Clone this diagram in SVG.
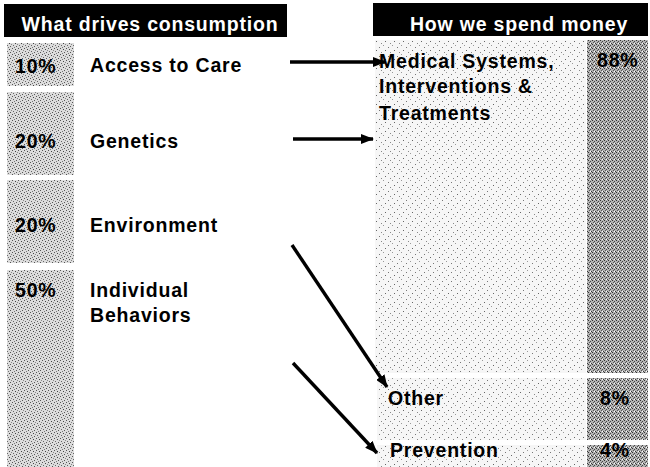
<svg xmlns="http://www.w3.org/2000/svg" width="650" height="467" viewBox="0 0 650 467">
  <defs>
    <style>
      text { font-family: "Liberation Sans", Arial, sans-serif; font-weight: bold; font-size: 19.5px; letter-spacing: 0.8px; fill: #000; }
      .head { fill: #fff; text-anchor: middle; }
      .bar { fill: #000; }
      .pct { fill: url(#stipMid); }
      .light { fill: url(#stipLight); }
      .dark { fill: url(#stipDark); }
      .conn { stroke: #000; stroke-width: 3.4; fill: none; marker-end: url(#head); }
    </style>
    <!-- halftone-like fills -->
    <pattern id="stipLight" width="9" height="9" patternUnits="userSpaceOnUse">
      <rect width="9" height="9" fill="#f6f6f6"/>
      <rect x="1" y="2" width="1" height="1" fill="#777"/>
      <rect x="5" y="0" width="1" height="1" fill="#999"/>
      <rect x="7" y="5" width="1" height="1" fill="#666"/>
      <rect x="3" y="7" width="1" height="1" fill="#888"/>
    </pattern>
    <pattern id="stipMid" width="6" height="6" patternUnits="userSpaceOnUse">
      <rect width="6" height="6" fill="#dcdcdc"/>
      <rect x="0" y="0" width="1" height="1" fill="#555"/>
      <rect x="3" y="1" width="1" height="1" fill="#444"/>
      <rect x="1" y="3" width="1" height="1" fill="#666"/>
      <rect x="4" y="4" width="1" height="1" fill="#555"/>
      <rect x="2" y="5" width="1" height="1" fill="#777"/>
      <rect x="5" y="2" width="1" height="1" fill="#888"/>
    </pattern>
    <pattern id="stipDark" width="4" height="4" patternUnits="userSpaceOnUse">
      <rect width="4" height="4" fill="#b4b4b4"/>
      <rect x="0" y="0" width="1" height="1" fill="#333"/>
      <rect x="2" y="1" width="1" height="1" fill="#444"/>
      <rect x="1" y="2" width="1" height="1" fill="#555"/>
      <rect x="3" y="3" width="1" height="1" fill="#3a3a3a"/>
      <rect x="2" y="3" width="1" height="1" fill="#fff"/>
    </pattern>
    <marker id="head" viewBox="0 0 13 10" refX="12" refY="5" markerWidth="13" markerHeight="10" markerUnits="userSpaceOnUse" orient="auto">
      <path d="M0,0 L13,5 L0,10 Z" fill="#000"/>
    </marker>
  </defs>

  <rect width="650" height="467" fill="#fff"/>

  <!-- column headers -->
  <g id="header-drivers">
    <rect class="bar" x="4" y="4" width="283" height="33"/>
    <text class="head" x="150" y="31">What drives consumption</text>
  </g>
  <g id="header-spending">
    <rect class="bar" x="373" y="3" width="275" height="33"/>
    <text class="head" x="519" y="31">How we spend money</text>
  </g>

  <!-- drivers of consumption -->
  <g id="driver-access">
    <rect class="pct" x="7" y="43" width="67" height="43"/>
    <text x="15" y="73">10%</text>
    <text x="90" y="72">Access to Care</text>
  </g>
  <g id="driver-genetics">
    <rect class="pct" x="7" y="92" width="67" height="83"/>
    <text x="15" y="148">20%</text>
    <text x="90" y="148">Genetics</text>
  </g>
  <g id="driver-environment">
    <rect class="pct" x="7" y="180" width="67" height="83"/>
    <text x="15" y="232">20%</text>
    <text x="90" y="232">Environment</text>
  </g>
  <g id="driver-behaviors">
    <rect class="pct" x="7" y="270" width="67" height="197"/>
    <text x="15" y="297">50%</text>
    <text x="90" y="297">Individual</text>
    <text x="90" y="322">Behaviors</text>
  </g>

  <!-- spending categories -->
  <g id="spend-medical">
    <rect class="light" x="375" y="40" width="211" height="333"/>
    <rect class="dark" x="587" y="40" width="61" height="333"/>
    <text x="379" y="68">Medical Systems,</text>
    <text x="379" y="93">Interventions &amp;</text>
    <text x="379" y="120">Treatments</text>
    <text x="597" y="67">88%</text>
  </g>
  <g id="spend-other">
    <rect class="light" x="377" y="378" width="209" height="62"/>
    <rect class="dark" x="587" y="378" width="61" height="62"/>
    <text x="388" y="405">Other</text>
    <text x="600" y="405">8%</text>
  </g>
  <g id="spend-prevention">
    <rect class="light" x="377" y="445" width="209" height="22"/>
    <rect class="dark" x="587" y="445" width="61" height="22"/>
    <text x="390" y="457">Prevention</text>
    <text x="600" y="457">4%</text>
  </g>

  <!-- connectors -->
  <g id="connectors">
    <line class="conn" x1="290" y1="62" x2="385" y2="62"/>
    <line class="conn" x1="293" y1="139" x2="373" y2="139"/>
    <line class="conn" x1="292" y1="245" x2="387" y2="387"/>
    <line class="conn" x1="293" y1="363" x2="377" y2="453"/>
  </g>
</svg>
